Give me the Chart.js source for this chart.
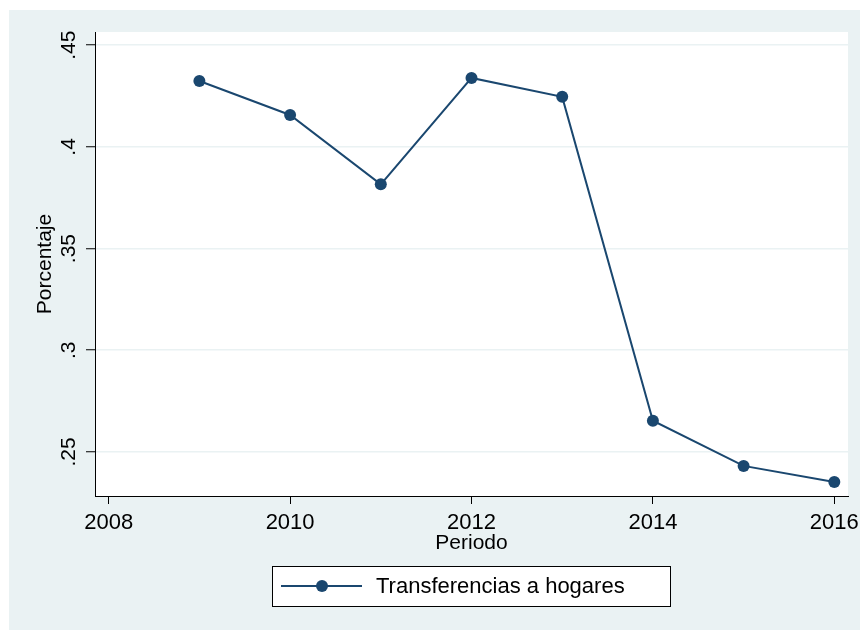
<!DOCTYPE html>
<html>
<head>
<meta charset="utf-8">
<script src="https://cdn.jsdelivr.net/npm/chart.js@4/dist/chart.umd.min.js"></script>
<style>
  html, body { margin: 0; padding: 0; background: #ffffff; }
  #wrap { width: 860px; height: 630px; position: relative; }
</style>
</head>
<body>
<div id="wrap"><canvas id="c" width="860" height="630"></canvas></div>
<script>
const years = [2009, 2010, 2011, 2012, 2013, 2014, 2015, 2016];
const values = [0.4324, 0.4157, 0.3816, 0.4339, 0.4246, 0.2653, 0.2431, 0.2352];
const xTicks = [2008, 2010, 2012, 2014, 2016];
const yTicks = [0.25, 0.30, 0.35, 0.40, 0.45];
const seriesLabel = 'Transferencias a hogares';
const xTitle = 'Periodo';
const yTitle = 'Porcentaje';

const NAVY = '#1a476f';
const BG = '#eaf2f3';
const GRID = '#eaf2f3';
const FONT = '"Liberation Sans", Arial, sans-serif';

function fmtY(v) {
  return (Math.round(v * 100) / 100).toString().replace(/^0/, '');
}

const decor = {
  id: 'decor',
  beforeDraw(chart) {
    const ctx = chart.ctx;
    const a = chart.chartArea;
    ctx.save();
    ctx.fillStyle = '#ffffff';
    ctx.fillRect(0, 0, chart.width, chart.height);
    ctx.fillStyle = BG;
    ctx.fillRect(9, 10, chart.width - 9, chart.height - 10);
    ctx.fillStyle = '#ffffff';
    ctx.fillRect(a.left, a.top, a.right - a.left, a.bottom - a.top);
    ctx.restore();
  },
  afterDraw(chart) {
    const ctx = chart.ctx;
    const ys = chart.scales.y;
    ctx.save();
    // rotated y tick labels
    ctx.fillStyle = '#000';
    ctx.font = '21px ' + FONT;
    ctx.textAlign = 'center';
    ctx.textBaseline = 'middle';
    yTicks.forEach(v => {
      const py = ys.getPixelForValue(v);
      ctx.save();
      ctx.translate(69, py);
      ctx.rotate(-Math.PI / 2);
      ctx.fillText(fmtY(v), 0, 0);
      ctx.restore();
    });
    // legend
    const lx = 272, ly = 566, lw = 398, lh = 40;
    ctx.fillStyle = '#ffffff';
    ctx.fillRect(lx, ly, lw, lh);
    ctx.strokeStyle = '#000';
    ctx.lineWidth = 1;
    ctx.strokeRect(lx + 0.5, ly + 0.5, lw, lh);
    const cy = ly + lh / 2;
    ctx.strokeStyle = NAVY;
    ctx.lineWidth = 2;
    ctx.beginPath();
    ctx.moveTo(281, cy);
    ctx.lineTo(362, cy);
    ctx.stroke();
    ctx.fillStyle = NAVY;
    ctx.beginPath();
    ctx.arc(322, cy, 6, 0, Math.PI * 2);
    ctx.fill();
    ctx.fillStyle = '#000';
    ctx.font = '22px ' + FONT;
    ctx.textAlign = 'left';
    ctx.textBaseline = 'middle';
    ctx.fillText(chart.data.datasets[0].label, 376, cy + 1);
    ctx.restore();
  }
};

new Chart(document.getElementById('c'), {
  type: 'line',
  data: {
    datasets: [{
      label: seriesLabel,
      data: years.map((y, i) => ({ x: y, y: values[i] })),
      borderColor: NAVY,
      backgroundColor: NAVY,
      borderWidth: 2,
      pointRadius: 6,
      pointBorderWidth: 0,
      pointBackgroundColor: NAVY,
      tension: 0,
      fill: false
    }]
  },
  options: {
    responsive: false,
    animation: false,
    devicePixelRatio: 1,
    layout: { padding: { left: 0, top: 32, right: 12, bottom: 74 } },
    plugins: { legend: { display: false }, tooltip: { enabled: false } },
    scales: {
      x: {
        type: 'linear',
        min: 2007.849,
        max: 2016.151,
        afterBuildTicks(scale) { scale.ticks = xTicks.map(v => ({ value: v })); },
        afterFit(scale) { scale.height = 60; scale.paddingLeft = 0; scale.paddingRight = 0; },
        grid: { drawOnChartArea: false, drawTicks: true, tickLength: 8, tickColor: '#000', tickWidth: 1 },
        border: { display: true, color: '#000', width: 1 },
        ticks: { color: '#000', font: { family: FONT, size: 22 }, padding: 6, maxRotation: 0, autoSkip: false,
                 callback: v => String(v) },
        title: { display: true, text: xTitle, color: '#000', font: { family: FONT, size: 21 }, padding: 0 }
      },
      y: {
        type: 'linear',
        min: 0.2283,
        max: 0.4565,
        afterBuildTicks(scale) { scale.ticks = yTicks.map(v => ({ value: v })); },
        afterFit(scale) { scale.width = 95; scale.paddingTop = 0; scale.paddingBottom = 0; },
        grid: { drawOnChartArea: true, color: GRID, lineWidth: 1.5, drawTicks: true, tickLength: 9, tickColor: '#000', tickWidth: 1 },
        border: { display: true, color: '#000', width: 1 },
        ticks: { display: false },
        title: { display: true, text: yTitle, color: '#000', font: { family: FONT, size: 21 }, padding: { top: 33, bottom: 0 } }
      }
    }
  },
  plugins: [decor]
});
</script>
</body>
</html>
